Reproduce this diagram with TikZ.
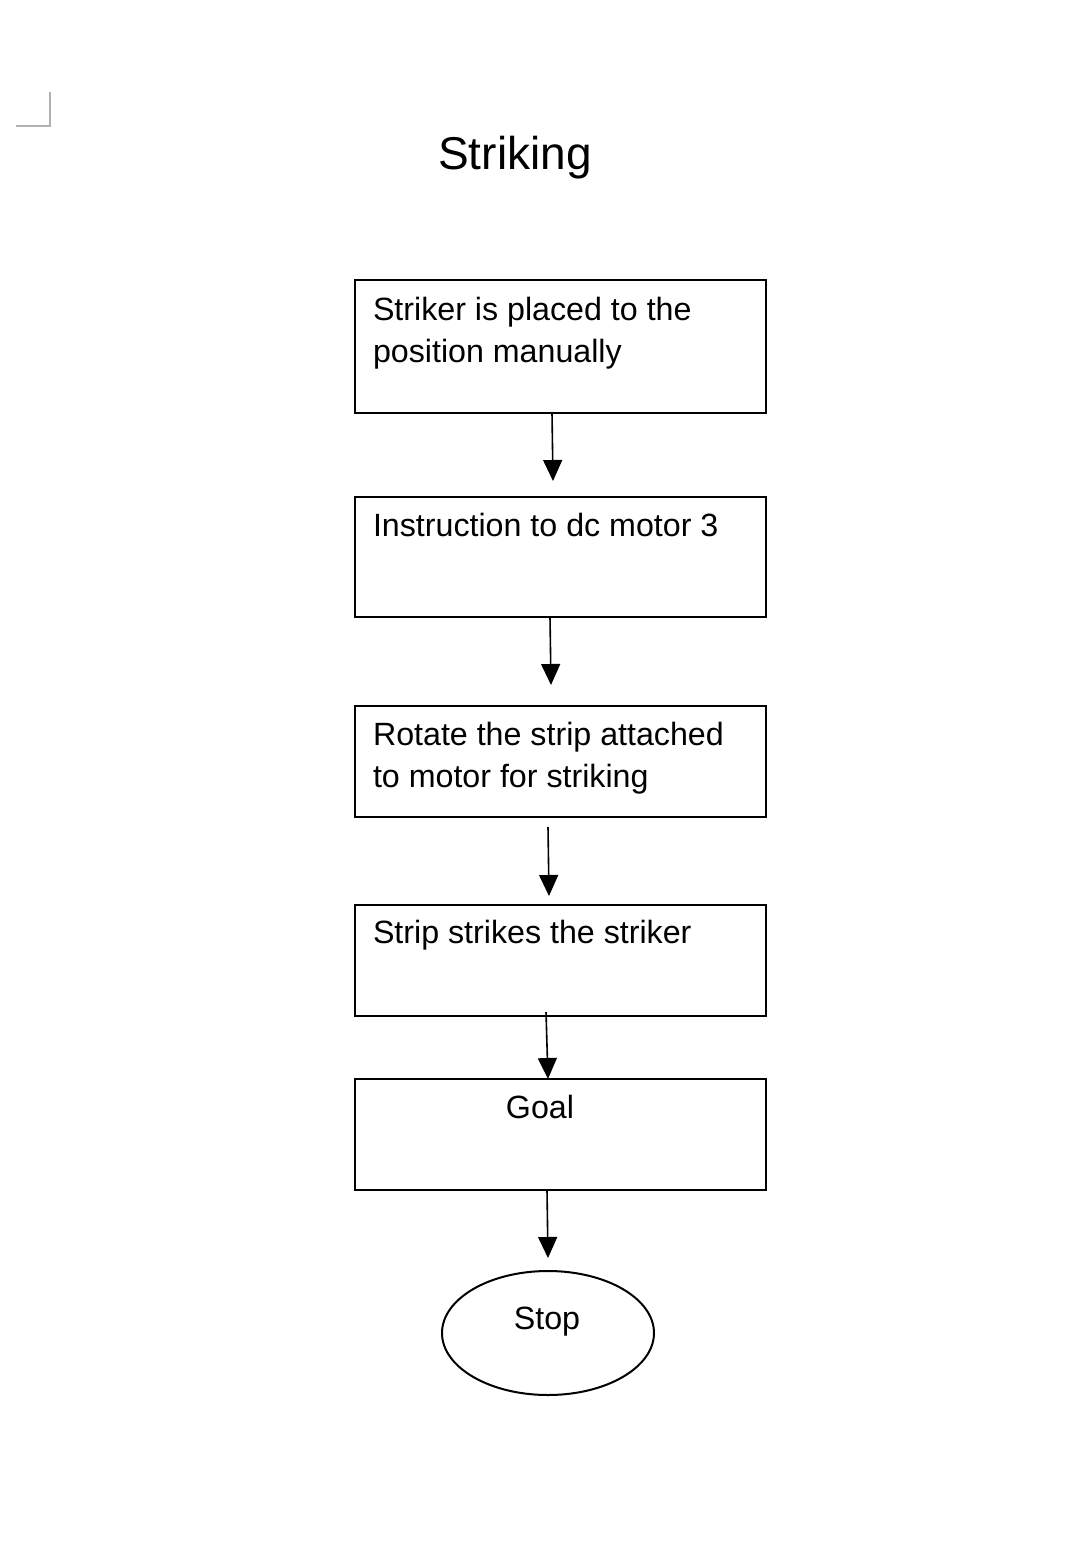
\documentclass[tikz,border=0pt]{standalone}
\usepackage{fontspec}
\setmainfont{Liberation Sans}
\usetikzlibrary{arrows.meta,shapes.geometric}
\begin{document}
\begin{tikzpicture}[x=1pt,y=-1pt,
  stepbox/.style={draw=black,line width=2pt,rectangle,minimum width=411pt,outer sep=0pt,inner sep=0pt},
  txt/.style={inner sep=0pt,outer sep=0pt,font=\fontsize{32.2}{42}\selectfont},
  conn/.style={line width=1.6pt,-{Triangle[width=19pt,length=21pt]}},
  cornermark/.style={draw=black!30,line width=2pt}]
\useasboundingbox (0,0) rectangle (1079,1541);
\fill[white] (0,0) rectangle (1079,1541);
% corner mark
\coordinate (m1) at (50,92);
\coordinate (m2) at (50,126);
\coordinate (m3) at (16,126);
\draw[cornermark] (m1) -- (m2) -- (m3);
% title
\node[inner sep=0pt,anchor=base,font=\fontsize{46}{55}\selectfont] (title) at (515,170) {Striking};
% boxes
\node[stepbox,minimum height=133pt] (b1) at (560.5,346.5) {};
\node[stepbox,minimum height=120pt] (b2) at (560.5,557) {};
\node[stepbox,minimum height=111pt] (b3) at (560.5,761.5) {};
\node[stepbox,minimum height=111pt] (b4) at (560.5,960.5) {};
\node[stepbox,minimum height=111pt] (b5) at (560.5,1134.5) {};
\node[draw=black,line width=2pt,ellipse,minimum width=212pt,minimum height=124pt,inner sep=0pt,outer sep=0pt] (stop) at (548,1333) {};
% texts
\node[txt,anchor=base west] (t1a) at (373,320) {Striker is placed to the};
\node[txt,anchor=base west] (t1b) at (373,362) {position manually};
\node[txt,anchor=base west] (t2) at (373,536) {Instruction to dc motor 3};
\node[txt,anchor=base west] (t3a) at (373,745) {Rotate the strip attached};
\node[txt,anchor=base west] (t3b) at (373,787) {to motor for striking};
\node[txt,anchor=base west] (t4) at (373,943) {Strip strikes the striker};
\node[txt,anchor=base] (t5) at (540,1118) {Goal};
\node[txt,anchor=base] (t6) at (547,1329) {Stop};
% connectors
\draw[conn] ([xshift=-8.5pt]b1.south) -- ([xshift=-7.5pt,yshift=16pt]b2.north);
\draw[conn] ([xshift=-10.5pt]b2.south) -- ([xshift=-9.5pt,yshift=21pt]b3.north);
\draw[conn] ([xshift=-12.5pt,yshift=-10pt]b3.south) -- ([xshift=-11.5pt,yshift=9pt]b4.north);
\draw[conn] ([xshift=-14.5pt,yshift=4pt]b4.south) -- ([xshift=-12.5pt]b5.north);
\draw[conn] ([xshift=-13.5pt]b5.south) -- ([yshift=13pt]stop.north);
\end{tikzpicture}
\end{document}
